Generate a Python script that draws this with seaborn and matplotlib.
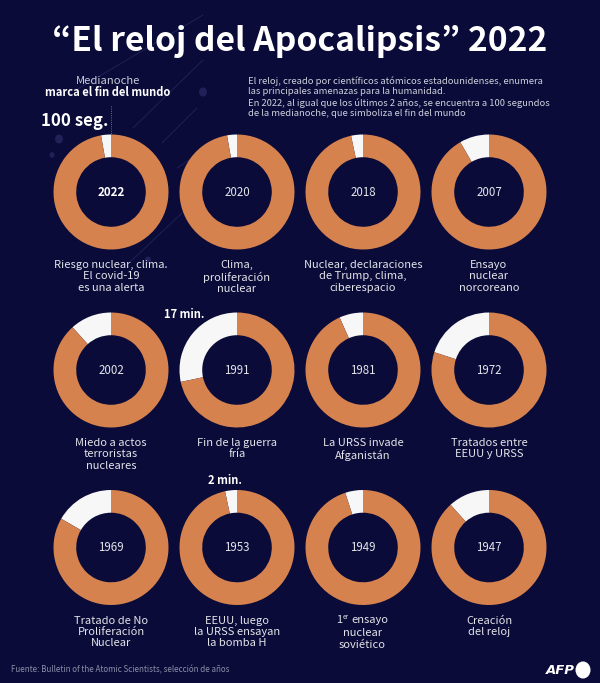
import pandas as pd
import seaborn as sns
import matplotlib.pyplot as plt
from matplotlib.lines import Line2D
from matplotlib.patches import Circle, Arc

FONDO = "#0a0b38"
NARANJA = "#d6824f"
BLANCO = "#f7f7f7"
W, H = 600, 683

anios = [2022, 2020, 2018, 2007, 2002, 1991, 1981, 1972, 1969, 1953, 1949, 1947]
segundos = [100, 100, 120, 300, 420, 1020, 240, 720, 600, 120, 180, 420]
descripciones = [
    "Riesgo nuclear, clima.\nEl covid-19\nes una alerta",
    "Clima,\nproliferación\nnuclear",
    "Nuclear, declaraciones\nde Trump, clima,\nciberespacio",
    "Ensayo\nnuclear\nnorcoreano",
    "Miedo a actos\nterroristas\nnucleares",
    "Fin de la guerra\nfría",
    "La URSS invade\nAfganistán",
    "Tratados entre\nEEUU y URSS",
    "Tratado de No\nProliferación\nNuclear",
    "EEUU, luego\nla URSS ensayan\nla bomba H",
    "",
    "Creación\ndel reloj",
]
HORA = 3600

sns.set_theme(style="dark", rc={"figure.facecolor": FONDO, "axes.facecolor": FONDO})
plt.rcParams["font.family"] = ["Noto Sans CJK JP", "DejaVu Sans"]

df = pd.DataFrame({"anio": anios, "segundos": segundos})


def dibujar_reloj(data, **kwargs):
    ax = plt.gca()
    seg = data["segundos"].iloc[0]
    ax.pie(
        [seg, HORA - seg],
        colors=[BLANCO, NARANJA],
        startangle=90,
        counterclock=True,
        radius=1,
        wedgeprops={"width": 0.395, "linewidth": 0, "clip_on": False},
    )
    ax.set_xlim(-1, 1)
    ax.set_ylim(-1, 1)


g = sns.FacetGrid(df, col="anio", col_order=anios, col_wrap=4, sharex=False, sharey=False)
g.map_dataframe(dibujar_reloj)
g.set_titles("")
fig = g.figure
fig.set_size_inches(W / 100, H / 100)
fig.set_facecolor(FONDO)

centros_x = [111, 237, 363, 489]
centros_y = [192, 370, 547.5]
R = 57.5
for i, ax in enumerate(g.axes.flat):
    cx = centros_x[i % 4]
    cy = centros_y[i // 4]
    ax.set_position([(cx - R) / W, 1 - (cy + R) / H, 2 * R / W, 2 * R / H])
    ax.set_facecolor("none")
    ax.set_zorder(3)
    ax.set_axis_off()


def txt(x, y, s, size=8.0, color="#e4e4ea", weight="normal", ha="center", va="center", **kw):
    return fig.text(x / W, 1 - y / H, s, fontsize=size, color=color, fontweight=weight, ha=ha, va=va, **kw)


# decoracion de fondo
for x0, y0, x1, y1 in [(76, 90, 203, 15), (133, 128, 203, 60), (162, 143, 197, 108),
                       (177, 168, 220, 140), (130, 262, 182, 213)]:
    fig.add_artist(Line2D([x0 / W, x1 / W], [1 - y0 / H, 1 - y1 / H], color="#1f2158", lw=0.7, zorder=0))
for x, y, r in [(59, 139, 4), (52, 155, 2.5), (203, 92, 4), (148, 260, 3)]:
    fig.add_artist(Circle((x / W, 1 - y / H), r / W, color="#1f2158", lw=0, zorder=0))
fig.add_artist(Line2D([111 / W, 111 / W], [1 - 106 / H, 1 - 135 / H], color="#8f90ad", lw=0.6, ls=":", zorder=1))

txt(300, 41, "“El reloj del Apocalipsis” 2022", size=24.2, color="white", weight="bold")

txt(108, 81, "Medianoche", size=8.1, color="#c9cad8")
txt(108, 93, "marca el fin del mundo", size=8.0, color="white", weight="bold")
txt(41, 121, "100 seg.", size=12.1, color="white", weight="bold", ha="left")

parrafo = ("El reloj, creado por científicos atómicos estadounidenses, enumera\n"
           "las principales amenazas para la humanidad.\n"
           "En 2022, al igual que los últimos 2 años, se encuentra a 100 segundos\n"
           "de la medianoche, que simboliza el fin del mundo")
txt(248, 97, parrafo, size=6.75, color="#cfd0dc", ha="left", linespacing=1.2)

for i, anio in enumerate(anios):
    cx = centros_x[i % 4]
    cy = centros_y[i // 4]
    if anio == 2022:
        txt(cx, cy, str(anio), size=8.3, color="white", weight="bold")
    else:
        txt(cx, cy, str(anio), size=8.3)
    txt(cx, cy + 68, descripciones[i], va="top", linespacing=1.16)

# 1er ensayo lleva superindice
txt(351, 620, "ensayo", ha="left")
txt(336.5, 620, "1", ha="left")
txt(342.5, 617, "er", size=4.6, ha="left")
txt(362.5, 632.5, "nuclear")
txt(362.5, 645, "soviético")

txt(184, 315, "17 min.", size=8.0, color="white", weight="bold")
txt(225, 480, "2 min.", size=8.0, color="white", weight="bold")

txt(11, 670, "Fuente: Bulletin of the Atomic Scientists, selección de años", size=5.8, color="#8d8ea8", ha="left")
fig.text(546 / W, 1 - 670 / H, "AFP", fontsize=9.5, color="white", fontweight="bold", style="italic",
         family=["DejaVu Sans"], ha="left", va="center")
fig.add_artist(Circle((583 / W, 1 - 670 / H), 7.5 / W, color="white", lw=0, zorder=4))

fig.savefig("out.png", dpi=100, facecolor=FONDO)
